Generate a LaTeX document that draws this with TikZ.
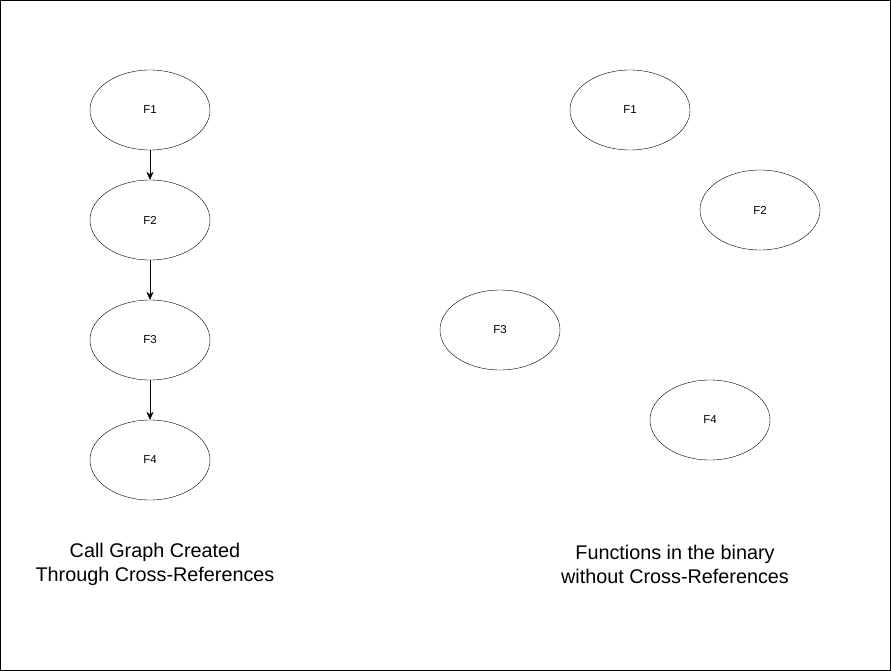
\documentclass[tikz,border=0pt]{standalone}
\usepackage{fontspec}
\setmainfont{Liberation Sans}
\usepackage{tikz}
\usetikzlibrary{shapes.geometric, arrows.meta}

\begin{document}
\begin{tikzpicture}[x=1pt, y=-1pt, >={Stealth[length=8pt, width=7pt, inset=2.5pt]},
    func/.style={draw, ellipse, minimum width=120pt, minimum height=80pt, inner sep=0pt, font=\fontsize{11.5}{13}\selectfont},
    caption/.style={align=center, font=\fontsize{19.8}{24}\selectfont}]
        % Frame and bounding box
        \useasboundingbox (0,0) rectangle (891,671);
        \draw[line width=1pt] (0.5,0.5) rectangle (890.5,670.5);

        % Call graph built from cross-references
        \node[func] (L1) at (150,110) {F1};
        \node[func] (L2) at (150,220) {F2};
        \node[func] (L3) at (150,340) {F3};
        \node[func] (L4) at (150,460) {F4};

        \draw[->] (L1) -- (L2);
        \draw[->] (L2) -- (L3);
        \draw[->] (L3) -- (L4);

        % Functions without cross-references
        \node[func] (R1) at (630,110) {F1};
        \node[func] (R2) at (760,210) {F2};
        \node[func] (R3) at (500,330) {F3};
        \node[func] (R4) at (710,420) {F4};

        % Captions
        \node[caption] (capL) at (155,564.5) {Call Graph Created\\Through Cross-References};
        \node[caption] (capR) at (675,564.5) {Functions in the binary\\without Cross-References};
    \end{tikzpicture}
\end{document}
